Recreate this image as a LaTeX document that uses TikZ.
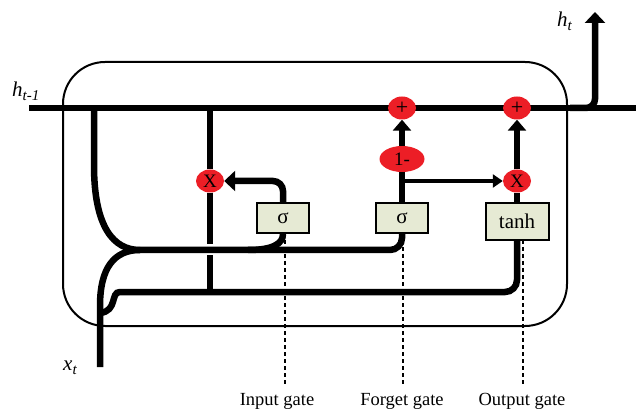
\documentclass[tikz,border=0pt]{standalone}
\usepackage{fontspec}
\setmainfont{Liberation Serif}
\usetikzlibrary{arrows.meta,shapes.geometric}
\definecolor{opred}{RGB}{236,30,38}
\definecolor{boxfill}{RGB}{230,234,212}
\begin{document}
\begin{tikzpicture}[x=1pt,y=-1pt,
  thickline/.style={line width=6.5pt},
  bigtip/.style={-{Triangle[width=20pt,length=11pt]}},
  op/.style={ellipse, fill=opred, minimum width=28pt, minimum height=23pt, inner sep=0pt, font=\fontsize{19}{19}\selectfont},
  gatebox/.style={draw, line width=2pt, fill=boxfill, minimum height=30pt, inner sep=0pt, font=\fontsize{21}{21}\selectfont},
  gatedash/.style={line width=1.5pt, dash pattern=on 4pt off 3pt},
  gatelabel/.style={font=\fontsize{18.5}{18.5}\selectfont, inner sep=0pt},
  varlabel/.style={font=\fontsize{21}{21}\selectfont\itshape, inner sep=0pt, anchor=base west}]
\useasboundingbox (0,0) rectangle (636,411);
% cell frame
\draw[line width=2pt, rounded corners=42pt] (63,62) rectangle (567,326);
% nodes
\node[gatebox, minimum width=52pt] (ig) at (283,218) {σ};
\node[gatebox, minimum width=52pt] (fg) at (402,218) {σ};
\node[gatebox, minimum width=63pt, minimum height=37pt] (og) at (517,221.5) {tanh};
% coordinates
\coordinate (hin) at (29,108);
\coordinate (hend) at (636,108);
\coordinate (hjoin) at (570,108);
\coordinate (hcorner) at (595,108);
\coordinate (hout) at (595,12);
\coordinate (ltop) at (94,108);
\coordinate (vtop) at (210,108);
\coordinate (vbot) at (210,292);
\coordinate (merge) at (140,250);
\coordinate (upcorner) at (402,250);
\coordinate (xbot) at (100,367);
\coordinate (xsplit) at (100,313);
\coordinate (lowcorner) at (517,292);
% main state line
\draw[thickline] (hin) -- (hend);
\draw[thickline, bigtip, rounded corners=9pt] (hjoin) -- (hcorner) -- (hout);
% operator nodes
\node[op] (ix) at (210,181) {X};
\node[op] (ox) at (517,181) {X};
\node[op, font=\fontsize{22}{22}\selectfont] (p1) at (402,108) {+};
\node[op, font=\fontsize{22}{22}\selectfont] (p2) at (517,108) {+};
\node[op, minimum width=45pt, minimum height=26pt, font=\fontsize{19}{19}\selectfont] (om) at (402,159) {1-};
% left vertical through input multiplier
\draw[thickline] (vtop) -- (ix.north);
\draw[thickline] (ix.south) -- (vbot);
% h_{t-1} curve into the upper feed line
\draw[thickline] (ltop) -- (94,165) .. controls (94,228) and (114,250) .. (merge);
% x_t input
\draw[thickline] (xbot) -- (100,306) .. controls (100,268) and (114,250) .. (merge);
% upper feed line (passes over the vertical)
\draw[white, line width=11pt] (200,250) -- (220,250);
\draw[thickline, rounded corners=12pt] (merge) -- (upcorner) -- (fg.south);
\draw[thickline] (ig.south) .. controls (283,244) and (272,250) .. (248,250);
% lower feed line
\draw[thickline, rounded corners=12pt] (xsplit) .. controls (118,311) and (110,292) .. (132,292) -- (lowcorner) -- (og.south);
% gate outputs
\draw[thickline, bigtip, rounded corners=10pt] (ig.north) |- (ix.east);
\draw[thickline] (fg.north) -- (om.south);
\draw[thickline, -{Triangle[width=18pt,length=11pt]}] (om.north) -- (p1.south);
\draw[line width=3.5pt, -{Triangle[width=13pt,length=10pt]}] (fg.north |- ox.west) -- (ox.west);
\draw[thickline] (og.north) -- (ox.south);
\draw[thickline, -{Triangle[width=18pt,length=11pt]}] (ox.north) -- (p2.south);
% labels
\node[gatelabel] (il) at (277,401) {Input gate};
\node[gatelabel] (fl) at (402,401) {Forget gate};
\node[gatelabel] (ol) at (522,401) {Output gate};
\coordinate (igd) at (285,233);
\coordinate (fgd) at (403,233);
\coordinate (ogd) at (523,240);
\draw[gatedash] (igd) -- (igd |- 0,386);
\draw[gatedash] (fgd) -- (fgd |- 0,386);
\draw[gatedash] (ogd) -- (ogd |- 0,386);
\node[varlabel] (hprev) at (12,97) {h\raisebox{-4pt}{\fontsize{15}{15}\selectfont t-1}};
\node[varlabel] (hnext) at (557,27) {h\raisebox{-4pt}{\fontsize{15}{15}\selectfont t}};
\node[varlabel] (xt) at (63,370) {x\raisebox{-4pt}{\fontsize{15}{15}\selectfont t}};
\end{tikzpicture}
\end{document}
